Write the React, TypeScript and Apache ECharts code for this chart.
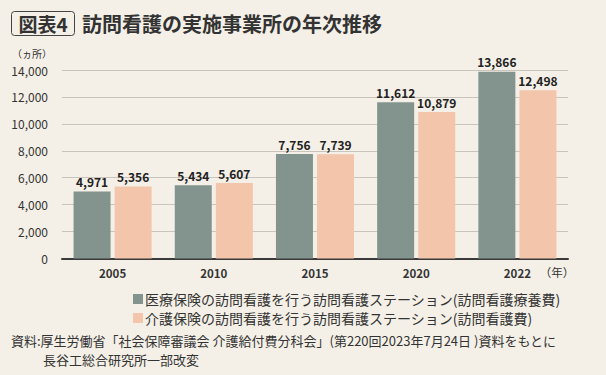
import React, { useEffect, useRef } from "react";
import * as echarts from "echarts";

const categories = ["2005", "2010", "2015", "2020", "2022"];
const medicalValues = [4971, 5434, 7756, 11612, 13866];
const careValues = [5356, 5607, 7739, 10879, 12498];
const seriesNames = [
  "医療保険の訪問看護を行う訪問看護ステーション(訪問看護療養費)",
  "介護保険の訪問看護を行う訪問看護ステーション(訪問看護費)",
];

const FONT = '"Noto Sans CJK JP", "Noto Sans", sans-serif';

export default function App() {
  const ref = useRef<HTMLDivElement>(null);
  useEffect(() => {
    if (!ref.current) return;
    const chart = echarts.init(ref.current, undefined, { renderer: "svg" });
    const label = {
      show: true,
      position: "top" as const,
      distance: 4,
      fontSize: 12,
      fontWeight: "bold" as const,
      color: "#222",
      fontFamily: FONT,
      formatter: (p: any) => Number(p.value).toLocaleString("en-US"),
    };
    chart.setOption({
      animation: false,
      backgroundColor: "#f4f0e7",
      textStyle: { fontFamily: FONT },
      grid: { left: 62, right: 38, top: 70, bottom: 116.5 },
      legend: {
        orient: "vertical",
        left: 133,
        top: 292,
        padding: 0,
        itemWidth: 10,
        itemHeight: 10,
        itemGap: 5,
        icon: "rect",
        textStyle: {
          fontSize: 14,
          lineHeight: 14,
          color: "#333",
          fontFamily: FONT,
          padding: [0, 0, 0, -3],
        },
        data: seriesNames,
      },
      xAxis: {
        type: "category",
        data: categories,
        axisLine: { lineStyle: { color: "#3a3a3a", width: 2 } },
        axisTick: { show: false },
        axisLabel: { fontSize: 11.5, fontWeight: "bold", color: "#333", margin: 9 },
      },
      yAxis: {
        type: "value",
        min: 0,
        max: 14000,
        interval: 2000,
        axisLine: { show: false },
        axisTick: { show: false },
        splitLine: { lineStyle: { color: "#c9c5bd", width: 1 } },
        axisLabel: {
          fontSize: 12,
          color: "#333",
          margin: 14,
          formatter: (v: number) => v.toLocaleString("en-US"),
        },
      },
      series: [
        {
          name: seriesNames[0],
          type: "bar",
          data: medicalValues,
          barWidth: 37,
          barGap: "11%",
          itemStyle: { color: "#83948f" },
          label,
        },
        {
          name: seriesNames[1],
          type: "bar",
          data: careValues,
          barWidth: 37,
          itemStyle: { color: "#f3c5aa" },
          label,
        },
      ],
      graphic: [
        {
          type: "rect",
          shape: { x: 11.5, y: 11.5, width: 63, height: 24, r: 3 },
          style: { fill: "none", stroke: "#444", lineWidth: 1 },
        },
        {
          type: "text",
          x: 43,
          y: 23.5,
          style: {
            text: "図表4",
            fontSize: 19,
            fontWeight: "bold",
            fill: "#333",
            fontFamily: FONT,
            align: "center",
            verticalAlign: "middle",
          },
        },
        {
          type: "text",
          x: 82,
          y: 23,
          style: {
            text: "訪問看護の実施事業所の年次推移",
            fontSize: 20,
            fontWeight: "bold",
            fill: "#333",
            fontFamily: FONT,
            verticalAlign: "middle",
          },
        },
        {
          type: "text",
          x: 12,
          y: 53,
          style: {
            text: "（ヵ所）",
            fontSize: 10,
            fill: "#333",
            fontFamily: FONT,
            verticalAlign: "middle",
          },
        },
        {
          type: "text",
          x: 557,
          y: 272,
          style: {
            text: "（年）",
            fontSize: 11.5,
            fill: "#333",
            fontFamily: FONT,
            align: "center",
            verticalAlign: "middle",
          },
        },
        {
          type: "text",
          x: 11,
          y: 340,
          style: {
            text: "資料:厚生労働省「社会保障審議会 介護給付費分科会」(第220回2023年7月24日 )資料をもとに",
            fontSize: 13,
            lineHeight: 14,
            fill: "#333",
            fontFamily: FONT,
            verticalAlign: "middle",
          },
        },
        {
          type: "text",
          x: 43,
          y: 359,
          style: {
            text: "長谷工総合研究所一部改変",
            fontSize: 13,
            lineHeight: 14,
            fill: "#333",
            fontFamily: FONT,
            verticalAlign: "middle",
          },
        },
      ],
    });
    return () => chart.dispose();
  }, []);
  return (
    <div
      ref={ref}
      style={{ position: "fixed", left: 0, top: 0, width: 606, height: 375 }}
    />
  );
}
